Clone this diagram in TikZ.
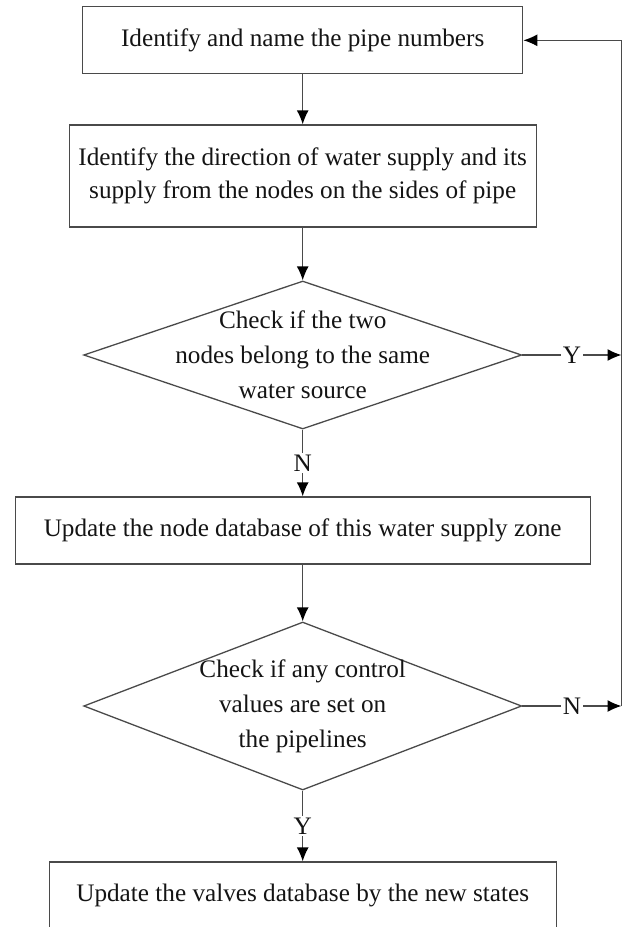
\documentclass[tikz,border=0pt]{standalone}
\usepackage{fontspec}
\setmainfont{Liberation Serif}
\usetikzlibrary{shapes.geometric,arrows.meta}

\definecolor{linegray}{HTML}{4A4A4A}
\definecolor{textgray}{HTML}{141414}

\tikzset{
  stepbox/.style={draw=linegray, line width=0.65pt, inner sep=0pt, text=textgray,
    align=center, font=\fontsize{12.6}{16.5}\selectfont},
  decision/.style={draw=linegray, line width=0.65pt, diamond, inner sep=0pt},
  decisiontext/.style={align=center, text=textgray, font=\fontsize{12.6}{17.5}\selectfont},
  flow/.style={draw=linegray, line width=0.65pt, -{Latex[length=7pt,width=6pt,black]}},
  answer/.style={fill=white, inner sep=1pt, text=textgray, font=\fontsize{12.6}{14}\selectfont}
}

\begin{document}
\begin{tikzpicture}[x=0.5pt,y=-0.5pt]
		\useasboundingbox (0,0) rectangle (623,927);
		\node[stepbox, minimum width=220pt, minimum height=33.5pt] (name) at (302.7,40.3) {Identify and name the pipe numbers};
		\node[stepbox, minimum width=233.5pt, minimum height=51pt] (direction) at (302.7,176) {Identify the direction of water supply and its\\supply from the nodes on the sides of pipe};
		\node[decision, minimum width=219pt, minimum height=74pt] (source) at (302.7,355) {};
		\node[decisiontext] at (source) {Check if the two\\nodes belong to the same\\water source};
		\node[stepbox, minimum width=287.5pt, minimum height=33.5pt] (zone) at (302.7,530.5) {Update the node database of this water supply zone};
		\node[decision, minimum width=219pt, minimum height=84pt] (valves) at (302.7,706) {};
		\node[decisiontext] at (valves) {Check if any control\\values are set on\\the pipelines};
		\node[stepbox, minimum width=253.5pt, minimum height=33.5pt] (states) at (302.7,895.5) {Update the valves database by the new states};
		\coordinate (yes) at (621.5,355);
		\coordinate (no) at (621.5,706);
		\draw[flow] (name) -- (direction);
		\draw[flow] (direction) -- (source);
		\draw[flow] (source) -- node[answer] {N} (zone);
		\draw[flow] (zone) -- (valves);
		\draw[flow] (valves) -- node[answer] {Y} (states);
		\draw[flow] (source.east) -- node[answer] {Y} (yes);
		\draw[flow] (valves.east) -- node[answer] {N} (no);
		\draw[flow] (no) |- (name.east);
	\end{tikzpicture}
\end{document}
